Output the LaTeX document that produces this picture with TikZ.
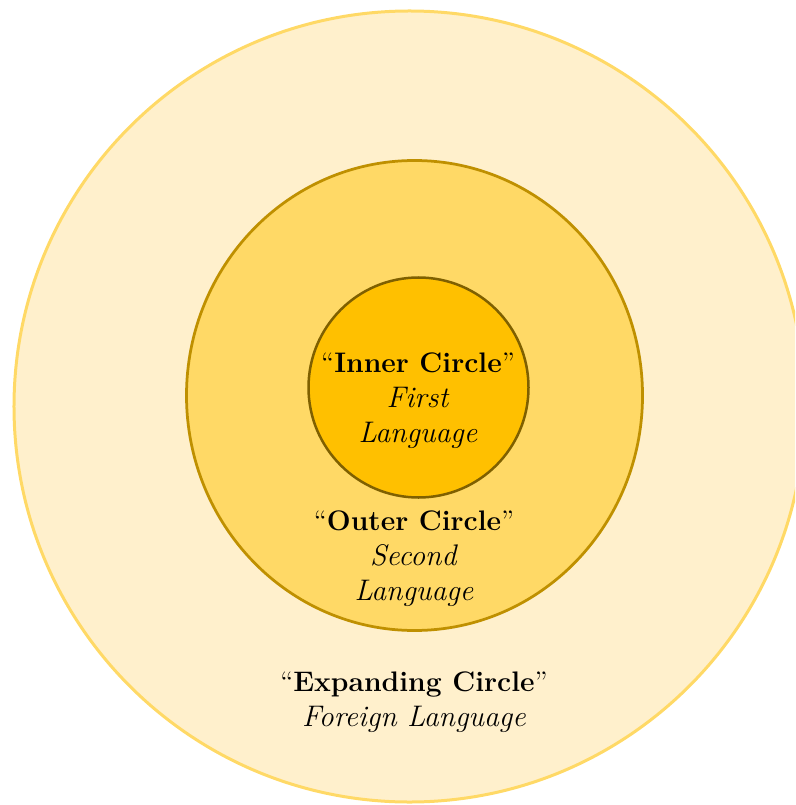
\documentclass[tikz,border=0pt]{standalone}
\usepackage{tikz}
\usetikzlibrary{shapes.geometric}
\definecolor{goldpale}{HTML}{FFF0CC}
\definecolor{goldmid}{HTML}{FFD966}
\definecolor{gold}{HTML}{FFC000}
\definecolor{golddark}{HTML}{BF9000}
\definecolor{goldbrown}{HTML}{7F6000}
\newcommand{\lang}[1]{{\fontsize{11.9}{14}\selectfont\textit{#1}}}
\tikzset{ring/.style={ellipse,inner sep=0pt,outer sep=0pt},lbl/.style={align=center,inner sep=0pt,font=\fontsize{11.3}{14}\selectfont}}

\begin{document}
\begin{tikzpicture}[x=0.4pt,y=-0.4pt]
\useasboundingbox (0,0) rectangle (795,805);
\clip (0,0) rectangle (795,805);
\node[ring,draw=goldmid,fill=goldpale,line width=1.2pt,minimum width=316.4pt,minimum height=316.4pt] (expanding) at (409.5,406.5) {};
\node[ring,draw=golddark,fill=goldmid,line width=1.1pt,minimum width=182.4pt,minimum height=188pt] (outer) at (414.5,395.5) {};
\node[ring,draw=goldbrown,fill=gold,line width=1pt,minimum width=88pt,minimum height=88pt] (inner) at (418.5,387.5) {};
\node[lbl] (innertext) at (418,400.5) {``\textbf{Inner Circle}''\\\lang{First}\\\lang{Language}};
\node[lbl] (outertext) at (414,558.5) {``\textbf{Outer Circle}''\\\lang{Second}\\\lang{Language}};
\node[lbl] (expandingtext) at (414,702) {``\textbf{Expanding Circle}''\\\lang{Foreign Language}};
\end{tikzpicture}
\end{document}
